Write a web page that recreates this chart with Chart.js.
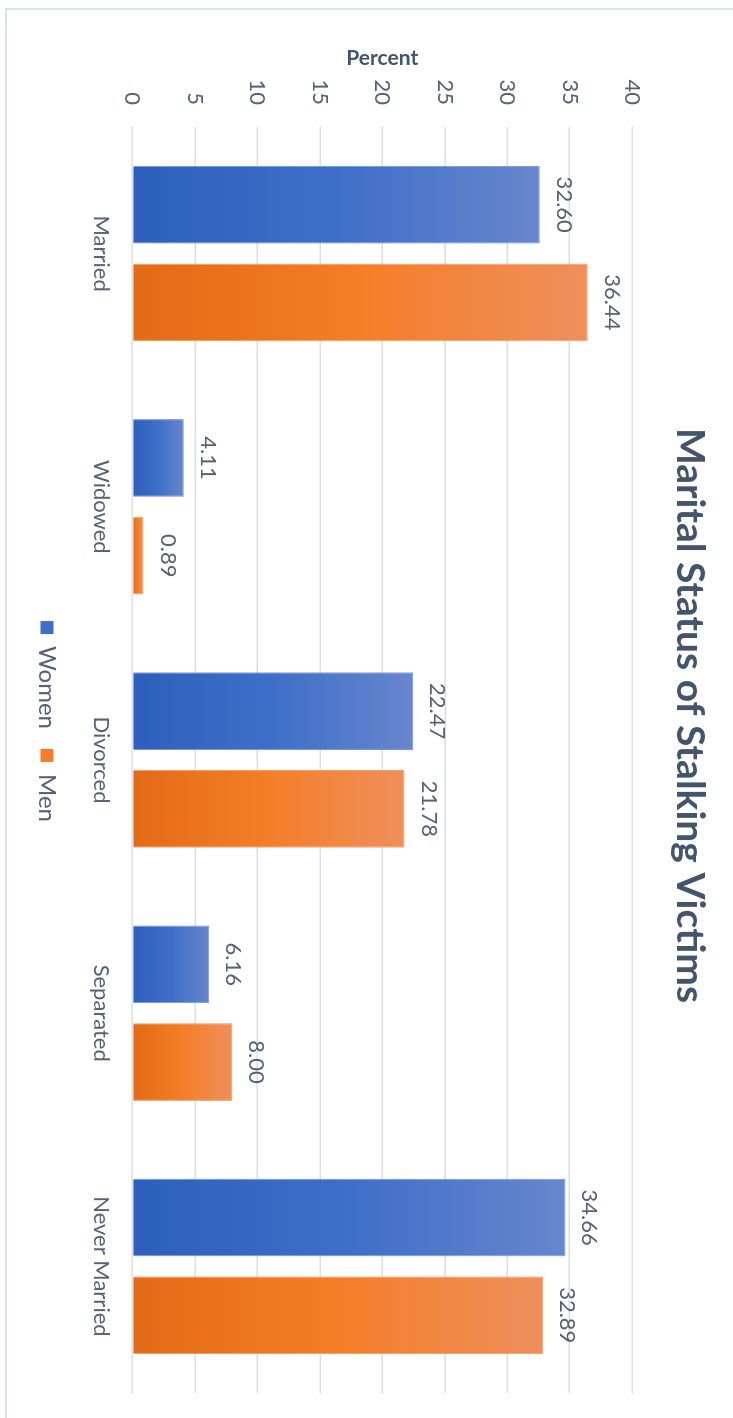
<!DOCTYPE html>
<html>
<head>
<meta charset="utf-8">
<title>Marital Status of Stalking Victims</title>
<script src="https://cdn.jsdelivr.net/npm/chart.js@4.4.1/dist/chart.umd.min.js"></script>
<style>
  html, body { margin: 0; padding: 0; background: #fff; overflow: hidden; }
  body { width: 733px; height: 1418px; position: relative; }
  /* card outline, only the top and left edges are visible */
  #frame { position: absolute; left: 5px; top: 8px; width: 800px; height: 1500px;
           border-left: 2px solid #DDE2EA; border-top: 2px solid #DDE2EA; }
  /* the column chart is laid out landscape and turned a quarter clockwise */
  #turn { position: absolute; left: 0; top: 0; width: 1418px; height: 733px;
          transform-origin: 0 0; transform: translate(733px, 0) rotate(90deg); }
</style>
</head>
<body>
<div id="frame"></div>
<div id="turn"><canvas id="maritalChart" width="1418" height="733"></canvas></div>
<script>
const categories = ["Married", "Widowed", "Divorced", "Separated", "Never Married"];
const women = [32.60, 4.11, 22.47, 6.16, 34.66];
const men = [36.44, 0.89, 21.78, 8.00, 32.89];
const percentTicks = [0, 5, 10, 15, 20, 25, 30, 35, 40];

const blueStops = ["#2C5FBC", "#3E6FC8", "#6786CD"];
const orangeStops = ["#E36A16", "#F47E28", "#EF8F5C"];

const titleColor = "#44546A";
const labelColor = "#556174";

Chart.defaults.font.family = "Lato, 'Noto Sans', sans-serif";

// each bar gets its own gradient, dark at the base and light at the tip
function barGradient(stops) {
    return function (context) {
        const chart = context.chart;
        if (!chart.chartArea || context.type !== "data") return stops[1];
        const y = chart.scales.y;
        const base = y.getPixelForValue(0);
        const tip = y.getPixelForValue(context.raw);
        const g = chart.ctx.createLinearGradient(0, base, 0, tip);
        g.addColorStop(0, stops[0]);
        g.addColorStop(0.5, stops[1]);
        g.addColorStop(1, stops[2]);
        return g;
    };
}

// value written just past the end of every bar
const valueLabels = {
    id: "valueLabels",
    afterDatasetsDraw(chart) {
        const ctx = chart.ctx;
        ctx.save();
        ctx.font = "22px Lato, 'Noto Sans', sans-serif";
        ctx.fillStyle = labelColor;
        ctx.textAlign = "center";
        ctx.textBaseline = "alphabetic";
        chart.data.datasets.forEach((ds, i) => {
            chart.getDatasetMeta(i).data.forEach((bar, j) => {
                ctx.fillText(ds.data[j].toFixed(2), bar.x, bar.y - 17);
            });
        });
        ctx.restore();
    }
};

// nudge the legend row and the title a little right of the canvas centre
const boxShift = {
    id: "boxShift",
    afterLayout(chart) {
        const lg = chart.legend;
        if (lg) { lg.left += 50; lg.width -= 50; }
        const tb = chart.titleBlock;
        if (tb) { tb.left += 38; tb.width -= 38; }
    }
};

const ctx = document.getElementById("maritalChart").getContext("2d");
new Chart(ctx, {
    type: "bar",
    data: {
        labels: categories,
        datasets: [
            {
                label: "Women",
                data: women,
                backgroundColor: barGradient(blueStops),
                borderColor: "#7593D6",
                borderWidth: 1,
                categoryPercentage: 0.772,
                barPercentage: 0.795
            },
            {
                label: "Men",
                data: men,
                backgroundColor: barGradient(orangeStops),
                borderColor: "#F49A63",
                borderWidth: 1,
                categoryPercentage: 0.772,
                barPercentage: 0.795
            }
        ]
    },
    options: {
        responsive: false,
        animation: false,
        devicePixelRatio: 1,
        layout: { padding: { left: 0, right: 25, top: 0, bottom: 25 } },
        plugins: {
            title: {
                display: true,
                text: "Marital Status of Stalking Victims",
                color: titleColor,
                font: { size: 39, weight: "bold" },
                padding: { top: 20, bottom: 34 }
            },
            legend: {
                position: "bottom",
                labels: {
                    color: labelColor,
                    font: { size: 24 },
                    boxWidth: 13,
                    boxHeight: 13,
                    padding: 20,
                    generateLabels: chart => chart.data.datasets.map((ds, i) => ({
                        text: ds.label,
                        fillStyle: i === 0 ? blueStops[1] : orangeStops[1],
                        strokeStyle: i === 0 ? blueStops[1] : orangeStops[1],
                        lineWidth: 0,
                        fontColor: labelColor,
                        datasetIndex: i
                    }))
                }
            },
            tooltip: { enabled: false }
        },
        scales: {
            x: {
                grid: { display: false, drawTicks: false },
                border: { display: false },
                ticks: { color: labelColor, font: { size: 22 }, padding: 18 },
                afterFit: axis => { axis.height -= 9; }
            },
            y: {
                min: 0,
                max: 40,
                afterBuildTicks: axis => { axis.ticks = percentTicks.map(v => ({ value: v })); },
                afterFit: axis => { axis.width = 127; },
                grid: { color: "#D9DEE7", lineWidth: 1.5, drawTicks: false },
                border: { display: false },
                ticks: { color: labelColor, font: { size: 22 }, padding: 22 },
                title: {
                    display: true,
                    text: "Percent",
                    color: titleColor,
                    font: { size: 21, weight: "bold" },
                    padding: { top: 46, bottom: 10 }
                }
            }
        }
    },
    plugins: [valueLabels, boxShift]
});
</script>
</body>
</html>
